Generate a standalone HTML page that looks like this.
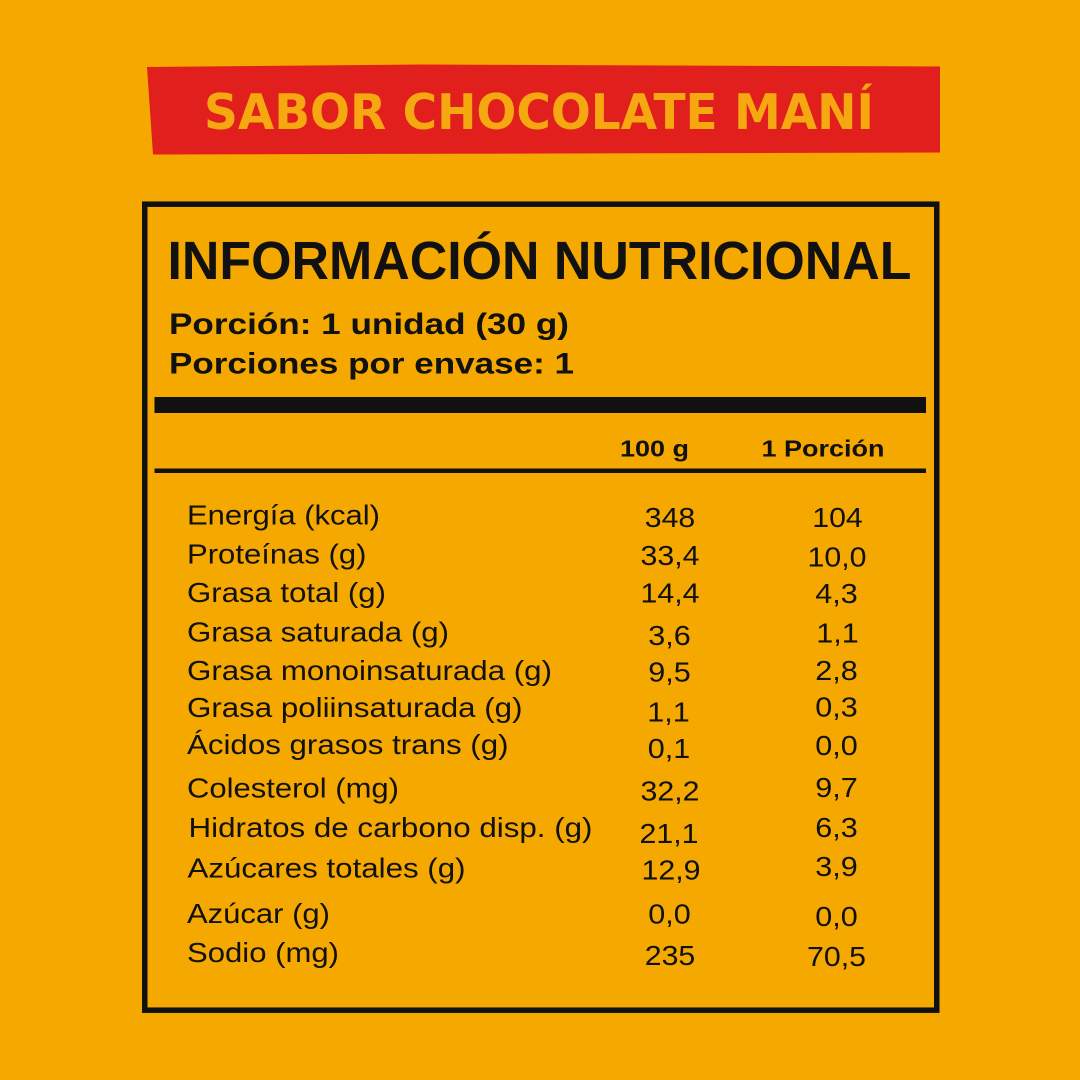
<!DOCTYPE html>
<html>
<head>
<meta charset="utf-8">
<style>
html,body{margin:0;padding:0;background:#F5A800;}
svg{display:block;}
.lb{font-family:"Liberation Sans",Arial,sans-serif;font-size:27.5px;fill:#111;}
.nm{font-family:"Liberation Sans",Arial,sans-serif;font-size:28px;fill:#111;}
.bd{font-family:"Liberation Sans",Arial,sans-serif;font-weight:bold;fill:#111;}
</style>
</head>
<body>
<svg width="1080" height="1080" viewBox="0 0 1080 1080" xmlns="http://www.w3.org/2000/svg">
  <rect x="0" y="0" width="1080" height="1080" fill="#F5A800"/>
  <!-- red banner -->
  <polygon points="147,67 420,64.5 940,66.5 940,152.5 153,154.5" fill="#E11F1D"/>
  <text x="204" y="129" font-family="'DejaVu Sans','Liberation Sans',sans-serif" font-weight="bold" font-size="49" fill="#F5A810" textLength="670" lengthAdjust="spacingAndGlyphs">SABOR CHOCOLATE MANÍ</text>

  <!-- box -->
  <rect x="144.75" y="204.2" width="792" height="806" fill="none" stroke="#111" stroke-width="5.5"/>

  <text class="bd" x="167.5" y="279" font-size="53.5" textLength="744" lengthAdjust="spacingAndGlyphs">INFORMACIÓN NUTRICIONAL</text>
  <text class="bd" x="169" y="334" font-size="30" textLength="400" lengthAdjust="spacingAndGlyphs">Porción: 1 unidad (30 g)</text>
  <text class="bd" x="169" y="373.5" font-size="30" textLength="405" lengthAdjust="spacingAndGlyphs">Porciones por envase: 1</text>

  <rect x="154.5" y="397" width="771.5" height="16" fill="#111"/>

  <text class="bd" x="620" y="456.7" font-size="23.5" textLength="69" lengthAdjust="spacingAndGlyphs">100 g</text>
  <text class="bd" x="761.5" y="456.7" font-size="23.5" textLength="123" lengthAdjust="spacingAndGlyphs">1 Porción</text>

  <rect x="154.5" y="468.5" width="771.5" height="4.5" fill="#111"/>

  <!-- labels -->
  <text class="lb" x="187" y="524.5" textLength="193" lengthAdjust="spacingAndGlyphs">Energía (kcal)</text>
  <text class="lb" x="187" y="563.5" textLength="179.5" lengthAdjust="spacingAndGlyphs">Proteínas (g)</text>
  <text class="lb" x="187" y="602" textLength="199" lengthAdjust="spacingAndGlyphs">Grasa total (g)</text>
  <text class="lb" x="187" y="641.5" textLength="262" lengthAdjust="spacingAndGlyphs">Grasa saturada (g)</text>
  <text class="lb" x="187" y="680" textLength="365" lengthAdjust="spacingAndGlyphs">Grasa monoinsaturada (g)</text>
  <text class="lb" x="187" y="717" textLength="335.5" lengthAdjust="spacingAndGlyphs">Grasa poliinsaturada (g)</text>
  <text class="lb" x="187" y="754" textLength="321.5" lengthAdjust="spacingAndGlyphs">Ácidos grasos trans (g)</text>
  <text class="lb" x="187" y="797.5" textLength="212" lengthAdjust="spacingAndGlyphs">Colesterol (mg)</text>
  <text class="lb" x="188.5" y="837" textLength="404" lengthAdjust="spacingAndGlyphs">Hidratos de carbono disp. (g)</text>
  <text class="lb" x="187.5" y="877.5" textLength="278" lengthAdjust="spacingAndGlyphs">Azúcares totales (g)</text>
  <text class="lb" x="187" y="923" textLength="143" lengthAdjust="spacingAndGlyphs">Azúcar (g)</text>
  <text class="lb" x="187" y="962" textLength="152" lengthAdjust="spacingAndGlyphs">Sodio (mg)</text>

  <!-- column 100 g -->
  <g text-anchor="middle">
    <text class="nm" x="670" y="527" textLength="50.5" lengthAdjust="spacingAndGlyphs">348</text>
    <text class="nm" x="670" y="565" textLength="59" lengthAdjust="spacingAndGlyphs">33,4</text>
    <text class="nm" x="670" y="602.5" textLength="59" lengthAdjust="spacingAndGlyphs">14,4</text>
    <text class="nm" x="669.5" y="645" textLength="42.5" lengthAdjust="spacingAndGlyphs">3,6</text>
    <text class="nm" x="669.5" y="681.5" textLength="42.5" lengthAdjust="spacingAndGlyphs">9,5</text>
    <text class="nm" x="668.5" y="721.5" textLength="42.5" lengthAdjust="spacingAndGlyphs">1,1</text>
    <text class="nm" x="669" y="758" textLength="42.5" lengthAdjust="spacingAndGlyphs">0,1</text>
    <text class="nm" x="670" y="800.5" textLength="59" lengthAdjust="spacingAndGlyphs">32,2</text>
    <text class="nm" x="669" y="843" textLength="59" lengthAdjust="spacingAndGlyphs">21,1</text>
    <text class="nm" x="671" y="879.5" textLength="59" lengthAdjust="spacingAndGlyphs">12,9</text>
    <text class="nm" x="669.5" y="923.3" textLength="42.5" lengthAdjust="spacingAndGlyphs">0,0</text>
    <text class="nm" x="670" y="965" textLength="50.5" lengthAdjust="spacingAndGlyphs">235</text>
  </g>

  <!-- column 1 porción -->
  <g text-anchor="middle">
    <text class="nm" x="837.5" y="527" textLength="50.5" lengthAdjust="spacingAndGlyphs">104</text>
    <text class="nm" x="837" y="566.5" textLength="59" lengthAdjust="spacingAndGlyphs">10,0</text>
    <text class="nm" x="836.5" y="603" textLength="42.5" lengthAdjust="spacingAndGlyphs">4,3</text>
    <text class="nm" x="837.5" y="642.7" textLength="42.5" lengthAdjust="spacingAndGlyphs">1,1</text>
    <text class="nm" x="836.5" y="680" textLength="42.5" lengthAdjust="spacingAndGlyphs">2,8</text>
    <text class="nm" x="836.5" y="716.7" textLength="42.5" lengthAdjust="spacingAndGlyphs">0,3</text>
    <text class="nm" x="836.5" y="755" textLength="42.5" lengthAdjust="spacingAndGlyphs">0,0</text>
    <text class="nm" x="836.5" y="797" textLength="42.5" lengthAdjust="spacingAndGlyphs">9,7</text>
    <text class="nm" x="836.5" y="837" textLength="42.5" lengthAdjust="spacingAndGlyphs">6,3</text>
    <text class="nm" x="836.5" y="876" textLength="42.5" lengthAdjust="spacingAndGlyphs">3,9</text>
    <text class="nm" x="836.5" y="926" textLength="42.5" lengthAdjust="spacingAndGlyphs">0,0</text>
    <text class="nm" x="836.5" y="966" textLength="59" lengthAdjust="spacingAndGlyphs">70,5</text>
  </g>
</svg>
</body>
</html>
